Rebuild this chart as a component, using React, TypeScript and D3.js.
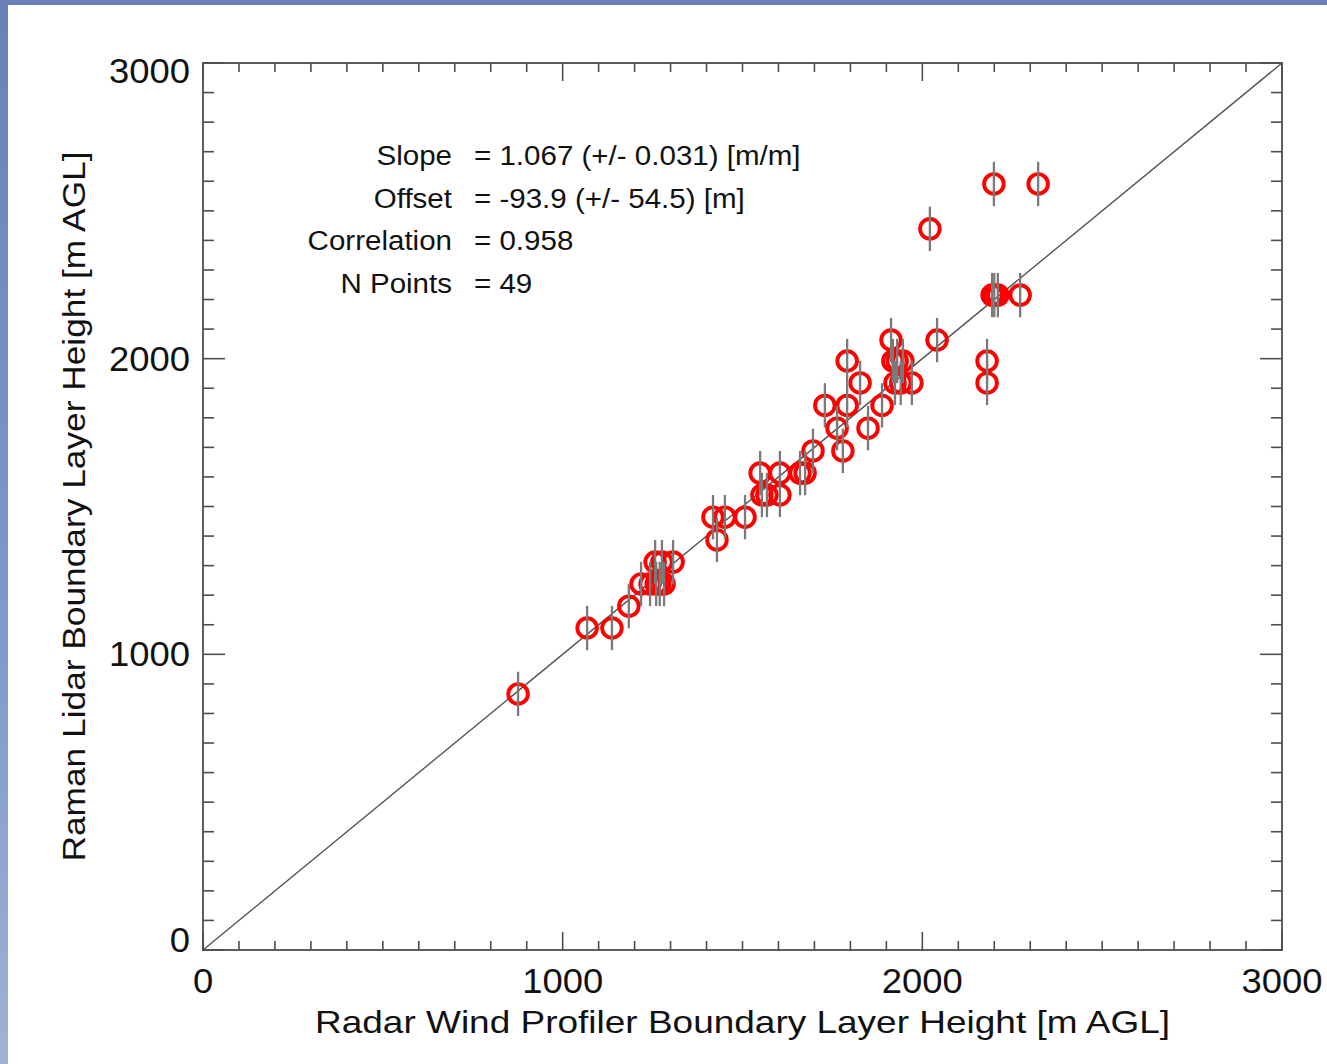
import React from "react";
import * as d3 from "d3";

// Radar wind profiler (x) vs Raman lidar (y) boundary layer heights [m AGL]
const radarHeights: number[] = [
  876, 1068, 1137, 1184,
  1218, 1243, 1260, 1282, 1270,
  1257, 1276, 1307,
  1418, 1451, 1507, 1429,
  1554, 1568, 1604,
  1549, 1604, 1660, 1674,
  1696, 1779,
  1763, 1849,
  1729, 1791, 1888,
  1827, 1924, 1971, 1940,
  1791, 1918, 1946, 1930,
  1913, 2041,
  2021,
  2180, 2180,
  2194, 2210, 2272, 2200,
  2199, 2322,
];
const lidarHeights: number[] = [
  866, 1089, 1089, 1163,
  1238, 1238, 1238, 1238, 1238,
  1312, 1312, 1312,
  1464, 1464, 1464, 1387,
  1539, 1539, 1539,
  1613, 1613, 1613, 1613,
  1688, 1688,
  1765, 1765,
  1842, 1842, 1842,
  1918, 1918, 1918, 1918,
  1992, 1992, 1992, 1992,
  2063, 2063,
  2439,
  1992, 1918,
  2215, 2215, 2215, 2215,
  2591, 2591,
];
const lidarError: number[] = lidarHeights.map(() => 75);

const xTicksMajor = [0, 1000, 2000, 3000];
const yTicksMajor = [0, 1000, 2000, 3000];
const xTitle = "Radar Wind Profiler Boundary Layer Height [m AGL]";
const yTitle = "Raman Lidar Boundary Layer Height [m AGL]";
const statLabels = ["Slope", "Offset", "Correlation", "N Points"];
const statValues = [
  "= 1.067 (+/- 0.031) [m/m]",
  "= -93.9 (+/- 54.5) [m]",
  "= 0.958",
  "= 49",
];

const W = 1327;
const H = 1064;
const FONT = "'Liberation Sans', Arial, Helvetica, sans-serif";

export default function App() {
  const x = d3.scaleLinear().domain([0, 3000]).range([203, 1282]);
  const y = d3.scaleLinear().domain([0, 3000]).range([950, 63]);
  const minor = d3.range(0, 3001, 100);
  const axisColor = "#4d4d4d";
  const [x0, x1] = x.range();
  const [y0, y1] = y.range();
  const sx = 1.055;

  return (
    <svg
      width={W}
      height={H}
      style={{ position: "absolute", left: 0, top: 0, display: "block" }}
      xmlns="http://www.w3.org/2000/svg"
    >
      <defs>
        <linearGradient id="leftBorder" x1="0" y1="0" x2="0" y2="1">
          <stop offset="0" stopColor="#6a80b9" />
          <stop offset="0.6" stopColor="#7f9acb" />
          <stop offset="1" stopColor="#9eb2d3" />
        </linearGradient>
      </defs>
      <rect x={0} y={0} width={W} height={H} fill="#ffffff" />
      <rect x={0} y={0} width={W} height={5} fill="#6a80b9" />
      <rect x={0} y={0} width={8} height={H} fill="url(#leftBorder)" />

      {/* 1:1 line */}
      <line x1={x(0)} y1={y(0)} x2={x(3000)} y2={y(3000)} stroke="#555" strokeWidth={1.4} />

      {/* points */}
      {radarHeights.map((v, i) => (
        <circle
          key={"c" + i}
          cx={x(v)}
          cy={y(lidarHeights[i])}
          r={9.8}
          fill="none"
          stroke="#ff0000"
          strokeWidth={3.9}
        />
      ))}
      {radarHeights.map((v, i) => (
        <line
          key={"e" + i}
          x1={x(v)}
          x2={x(v)}
          y1={y(lidarHeights[i] - lidarError[i])}
          y2={y(lidarHeights[i] + lidarError[i])}
          stroke="#7a7a7a"
          strokeWidth={2.3}
        />
      ))}

      {/* axes box */}
      <rect x={x0} y={y1} width={x1 - x0} height={y0 - y1} fill="none" stroke={axisColor} strokeWidth={1.8} />
      {minor.map((t) => {
        const len = t % 1000 === 0 ? 18 : 9;
        return (
          <g key={"xt" + t}>
            <line x1={x(t)} x2={x(t)} y1={y0} y2={y0 - len} stroke={axisColor} strokeWidth={1.6} />
            <line x1={x(t)} x2={x(t)} y1={y1} y2={y1 + len} stroke={axisColor} strokeWidth={1.6} />
          </g>
        );
      })}
      {minor.map((t) => {
        const len = t % 1000 === 0 ? 22 : 11;
        return (
          <g key={"yt" + t}>
            <line x1={x0} x2={x0 + len} y1={y(t)} y2={y(t)} stroke={axisColor} strokeWidth={1.6} />
            <line x1={x1} x2={x1 - len} y1={y(t)} y2={y(t)} stroke={axisColor} strokeWidth={1.6} />
          </g>
        );
      })}

      {/* tick labels */}
      {xTicksMajor.map((t) => (
        <text
          key={"xl" + t}
          transform={`translate(${x(t)},993) scale(1.04,1)`}
          textAnchor="middle"
          fontFamily={FONT}
          fontSize={35}
          fill="#111"
        >
          {t}
        </text>
      ))}
      {yTicksMajor.map((t, i) => {
        const dy = i === 0 ? 2 : i === yTicksMajor.length - 1 ? 20 : 12;
        return (
          <text
            key={"yl" + t}
            transform={`translate(190,${y(t) + dy}) scale(1.04,1)`}
            textAnchor="end"
            fontFamily={FONT}
            fontSize={35}
            fill="#111"
          >
            {t}
          </text>
        );
      })}

      {/* axis titles */}
      <text
        x={(x0 + x1) / 2}
        y={1033}
        textAnchor="middle"
        fontFamily={FONT}
        fontSize={32}
        fill="#111"
        textLength={855}
        lengthAdjust="spacingAndGlyphs"
      >
        {xTitle}
      </text>
      <text
        transform={`translate(85,${(y0 + y1) / 2}) rotate(-90)`}
        textAnchor="middle"
        fontFamily={FONT}
        fontSize={32}
        fill="#111"
        textLength={710}
        lengthAdjust="spacingAndGlyphs"
      >
        {yTitle}
      </text>

      {/* statistics */}
      {statLabels.map((s, i) => (
        <g key={"s" + i}>
          <text
            transform={`translate(452,${165 + i * 42.5}) scale(${sx},1)`}
            textAnchor="end"
            fontFamily={FONT}
            fontSize={28}
            fill="#111"
          >
            {s}
          </text>
          <text
            transform={`translate(474,${165 + i * 42.5}) scale(${sx},1)`}
            textAnchor="start"
            fontFamily={FONT}
            fontSize={28}
            fill="#111"
          >
            {statValues[i]}
          </text>
        </g>
      ))}
    </svg>
  );
}
